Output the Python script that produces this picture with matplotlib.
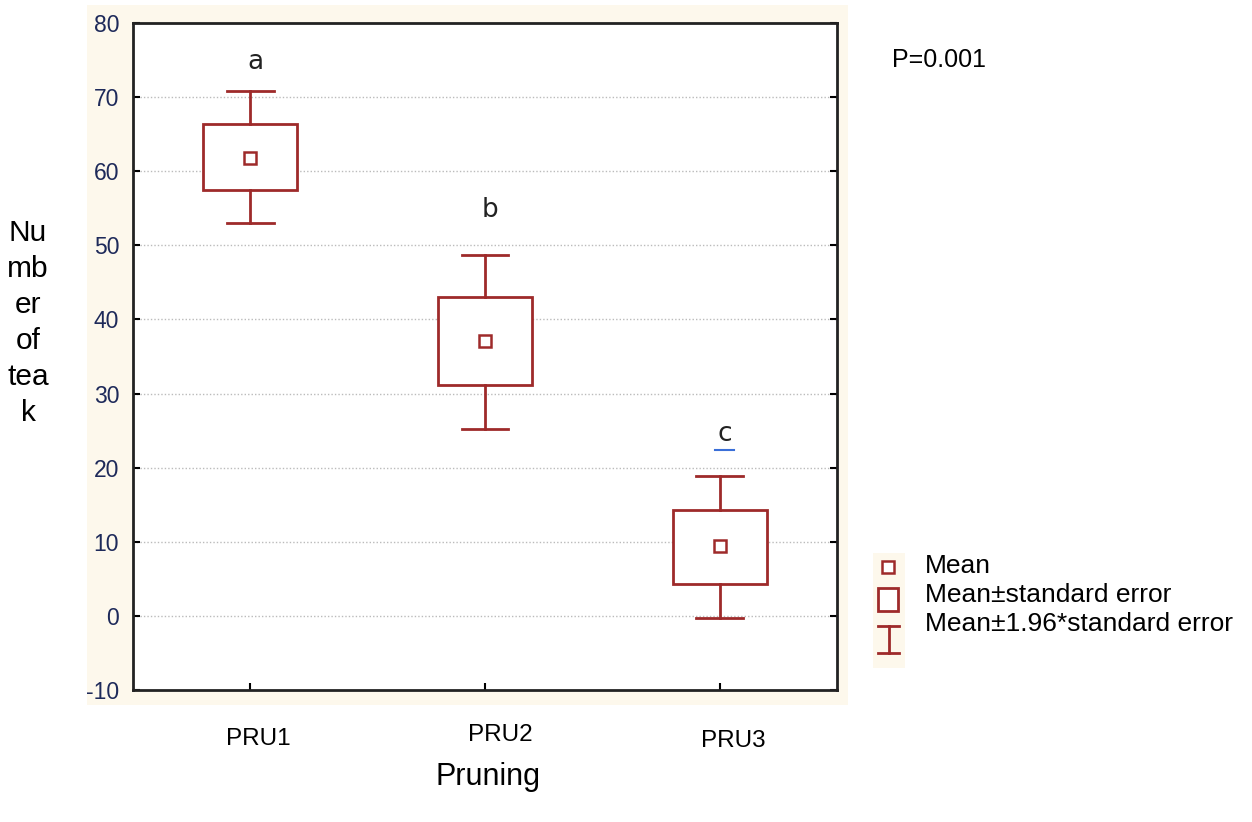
import matplotlib
matplotlib.use("Agg")
from matplotlib import pyplot
from matplotlib.patches import Rectangle
from matplotlib.lines import Line2D

groups = ["PRU1", "PRU2", "PRU3"]
means = [61.8, 37.1, 9.4]
se_low = [57.4, 31.2, 4.3]
se_high = [66.4, 43.0, 14.3]
ci_low = [53.0, 25.2, -0.3]
ci_high = [70.8, 48.7, 18.9]
letters = ["a", "b", "c"]
letter_y = [74.8, 54.8, 24.5]

red = "#9e2a2a"
cream = "#fdf8ec"
tick_col = "#1e2a5a"
font = "Liberation Sans"
pyplot.rcParams["axes.unicode_minus"] = False

fig = pyplot.figure(figsize=(12.52, 8.22), dpi=100)
fig.patch.set_facecolor("white")
fig.add_artist(Rectangle((87 / 1252, 1 - 705 / 822), 761 / 1252, 700 / 822,
                         transform=fig.transFigure, facecolor=cream, edgecolor="none", zorder=0))
fig.add_artist(Rectangle((873 / 1252, 1 - 668 / 822), 32 / 1252, 115 / 822,
                         transform=fig.transFigure, facecolor=cream, edgecolor="none", zorder=0))

ax = fig.add_axes([133 / 1252, 1 - 690 / 822, 704 / 1252, 667 / 822])
ax.set_facecolor("white")
ax.set_xlim(0.5, 3.5)
ax.set_ylim(-10, 80)
ax.set_yticks(range(-10, 81, 10))
ax.set_xticks([1, 2, 3])
ax.set_xticklabels([])
for t in ax.get_yticklabels():
    t.set_fontfamily(font)
    t.set_fontsize(16.5)
    t.set_color(tick_col)
ax.tick_params(direction="in", length=5, width=1.5, right=True, top=False, pad=10)
for s in ax.spines.values():
    s.set_linewidth(2)
    s.set_color("#222222")
for yv in range(0, 80, 10):
    ax.axhline(yv, color="#bbbbbb", linestyle=(0, (1, 1.5)), linewidth=1, zorder=1)

box_w = 0.4
cap_w = 0.2
for i, g in enumerate(groups):
    x = i + 1
    ax.add_patch(Rectangle((x - box_w / 2, se_low[i]), box_w, se_high[i] - se_low[i],
                           facecolor="white", edgecolor=red, linewidth=2, zorder=3))
    ax.plot([x, x], [se_high[i], ci_high[i]], color=red, lw=2, zorder=3)
    ax.plot([x, x], [ci_low[i], se_low[i]], color=red, lw=2, zorder=3)
    ax.plot([x - cap_w / 2, x + cap_w / 2], [ci_high[i]] * 2, color=red, lw=2, zorder=3)
    ax.plot([x - cap_w / 2, x + cap_w / 2], [ci_low[i]] * 2, color=red, lw=2, zorder=3)
    ax.plot(x, means[i], marker="s", markersize=8, markerfacecolor="white",
            markeredgecolor=red, markeredgewidth=1.8, zorder=4)
    ax.text(x + 0.02, letter_y[i], letters[i], ha="center", va="center", fontsize=19,
            family="DejaVu Sans", color="#222222")
ax.plot([2.98, 3.06], [22.4, 22.4], color="#3a6fd8", lw=1.5)

# category labels below the panel
fig.text(258 / 1252, 1 - 739 / 822, "PRU1", ha="center", va="center", fontsize=17.5, family=font)
fig.text(500 / 1252, 1 - 735 / 822, "PRU2", ha="center", va="center", fontsize=17.5, family=font)
fig.text(733 / 1252, 1 - 741 / 822, "PRU3", ha="center", va="center", fontsize=17.5, family=font)
fig.text(488 / 1252, 1 - 777 / 822, "Pruning", ha="center", va="center", fontsize=22, family=font)
fig.text(28 / 1252, 1 - 323 / 822, "Nu\nmb\ner\nof\ntea\nk", ha="center", va="center",
         fontsize=21.5, family=font, linespacing=1.37)
fig.text(892 / 1252, 1 - 60 / 822, "P=0.001", ha="left", va="center", fontsize=18, family=font)

# legend
def fx(px):
    return px / 1252

def fy(py):
    return 1 - py / 822

fig.add_artist(Line2D([fx(888)], [fy(567)], marker="s", markersize=8, markerfacecolor="white",
                      markeredgecolor=red, markeredgewidth=1.8, transform=fig.transFigure))
fig.add_artist(Rectangle((fx(878), fy(611)), 20 / 1252, 23 / 822, transform=fig.transFigure,
                         facecolor="white", edgecolor=red, linewidth=2))
for seg in [([878, 899], [626, 626]), ([888.5, 888.5], [626, 653]), ([878, 899], [653, 653])]:
    fig.add_artist(Line2D([fx(v) for v in seg[0]], [fy(v) for v in seg[1]], color=red, lw=2,
                          transform=fig.transFigure))
labels = ["Mean", "Mean±standard error", "Mean±1.96*standard error"]
for lab, py in zip(labels, [566, 595, 624]):
    fig.text(fx(925), fy(py), lab, ha="left", va="center", fontsize=19, family=font)

fig.savefig("out.png", dpi=100)
